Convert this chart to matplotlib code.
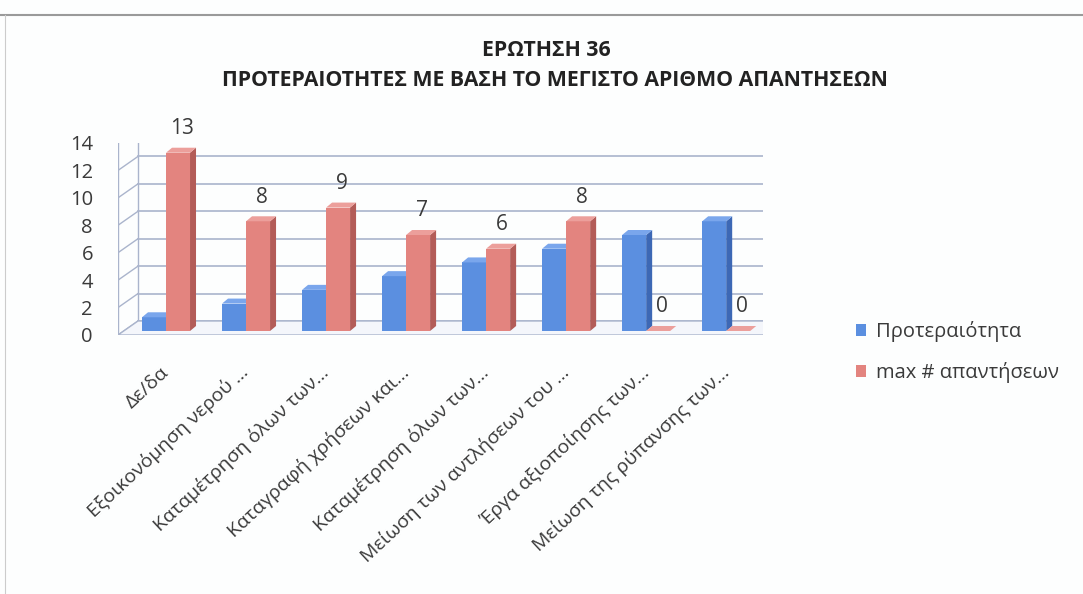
import numpy as np
import matplotlib
matplotlib.use("Agg")
import matplotlib.pyplot as plt
from matplotlib.patches import Polygon, Patch
import matplotlib.transforms as mtransforms

plt.rcParams["font.family"] = ["Open Sans", "DejaVu Sans"]

# ---------------------------------------------------------------------------
# data
# ---------------------------------------------------------------------------
title_lines = ["ΕΡΩΤΗΣΗ 36", "ΠΡΟΤΕΡΑΙΟΤΗΤΕΣ ΜΕ ΒΑΣΗ ΤΟ ΜΕΓΙΣΤΟ ΑΡΙΘΜΟ ΑΠΑΝΤΗΣΕΩΝ"]
categories = [
    "Δε/δα",
    "Εξοικονόμηση νερού ...",
    "Καταμέτρηση όλων των...",
    "Καταγραφή χρήσεων και...",
    "Καταμέτρηση όλων των...",
    "Μείωση των αντλήσεων του ...",
    "Έργα αξιοποίησης των...",
    "Μείωση της ρύπανσης των...",
]
priority = [1, 2, 3, 4, 5, 6, 7, 8]
max_answers = [13, 8, 9, 7, 6, 8, 0, 0]
series_names = ["Προτεραιότητα", "max # απαντήσεων"]
y_ticks = [0, 2, 4, 6, 8, 10, 12, 14]

# ---------------------------------------------------------------------------
# styling
# ---------------------------------------------------------------------------
W, H = 1083, 594
blue_front, blue_side, blue_top = "#5b8fe0", "#3d68b5", "#7aa6ec"
red_front, red_side, red_top = "#e3847f", "#b35c58", "#ec9f9b"
grid_col = "#aab4cc"
text_col = "#3a3a3a"

fig = plt.figure(figsize=(W / 100, H / 100), dpi=100)
fig.patch.set_facecolor("#fdfefe")

# plot area in pixels (front wall)
x_left, x_right = 118, 763
y_zero, y_top = 335, 143
ax = fig.add_axes([x_left / W, 1 - y_zero / H,
                   (x_right - x_left) / W, (y_zero - y_top) / H])
ax.set_xlim(-0.6, 7.46)
ax.set_ylim(0, 14)
ax.set_facecolor("none")
for s in ax.spines.values():
    s.set_visible(False)

# 3D offsets in pixels
back_dx, back_dy = 20, 14
bar_dx, bar_dy = 6, 5
bar_shift = 4  # bars stand a little inside the floor

back = ax.transData + mtransforms.ScaledTranslation(back_dx / 100, back_dy / 100,
                                                    fig.dpi_scale_trans)
mid = ax.transData + mtransforms.ScaledTranslation(0, bar_shift / 100,
                                                   fig.dpi_scale_trans)
x0, x1 = ax.get_xlim()

# back wall gridlines + left wall diagonals
for yv in y_ticks:
    ax.plot([x0, x1], [yv, yv], color=grid_col, lw=1.2, transform=back, zorder=1)
    p_front = ax.transData.transform((x0, yv))
    pts = np.array([p_front, p_front + [back_dx, back_dy]])
    ax.plot(pts[:, 0], pts[:, 1], color=grid_col, lw=1.0,
            transform=None, zorder=1)
ax.plot([x0, x0], [0, 14], color=grid_col, lw=1.0, zorder=1)
ax.plot([x0, x0], [0, 14], color=grid_col, lw=1.0, transform=back, zorder=1)

# floor
f0 = ax.transData.transform((x0, 0))
f1 = ax.transData.transform((x1, 0))
floor = Polygon([f0, f1, f1 + [back_dx, back_dy], f0 + [back_dx, back_dy]],
                closed=True, transform=None, facecolor="#f4f6fb",
                edgecolor=grid_col, lw=1.0, zorder=1.5)
ax.add_patch(floor)

# bars with simple 3D faces
bw = 0.3
x = np.arange(len(categories))
inv = ax.transData.inverted()
dxd = inv.transform((bar_dx, bar_dy)) - inv.transform((0, 0))


def draw_bars(xs, vals, front, side, top):
    d0, d1 = dxd
    for xi, v in zip(xs, vals):
        a, b = xi, xi + bw
        ax.add_patch(Polygon([(a, 0), (b, 0), (b, v), (a, v)], closed=True,
                             facecolor=front, edgecolor="none", zorder=3,
                             transform=mid))
        ax.add_patch(Polygon([(b, 0), (b + d0, d1), (b + d0, v + d1), (b, v)],
                             closed=True, facecolor=side, edgecolor="none",
                             zorder=3, transform=mid))
        ax.add_patch(Polygon([(a, v), (b, v), (b + d0, v + d1), (a + d0, v + d1)],
                             closed=True, facecolor=top, edgecolor="none",
                             zorder=3, transform=mid))


draw_bars(x - bw, priority, blue_front, blue_side, blue_top)
draw_bars(x, max_answers, red_front, red_side, red_top)

# data labels for the red series
for xi, v in zip(x, max_answers):
    ax.text(xi + bw / 2 + 0.05, v + 1.0, str(v), ha="center", va="bottom",
            fontsize=15, color=text_col, zorder=5, transform=mid)

# axes ticks
ax.set_yticks(y_ticks)
ax.set_yticklabels([str(t) for t in y_ticks], fontsize=14.5, color=text_col)
ax.tick_params(axis="y", length=0, pad=18)
ax.set_xticks(x)
ax.set_xticklabels(categories, rotation=43, ha="right", va="center",
                   rotation_mode="anchor", fontsize=14, color=text_col)
ax.tick_params(axis="x", length=0, pad=25)

# title
fig.text(546 / W, 1 - 50 / H, title_lines[0], ha="center", va="center",
         fontsize=15.3, fontweight="bold", color="#222222")
fig.text(555 / W, 1 - 81 / H, title_lines[1], ha="center", va="center",
         fontsize=15.3, fontweight="bold", color="#222222")

# legend
handles = [Patch(facecolor=blue_front, edgecolor="none"),
           Patch(facecolor=red_front, edgecolor="none")]
fig.legend(handles, series_names, loc="center left",
           bbox_to_anchor=(838 / W, 1 - 352 / H), frameon=False,
           fontsize=14.5, handlelength=0.5, handleheight=0.5, handletextpad=0.5,
           labelspacing=1.0, labelcolor=text_col)

# screenshot frame lines
fig.add_artist(plt.Line2D([0, 1], [1 - 15 / H, 1 - 15 / H], color="#9a9a9a",
                          lw=1.5, transform=fig.transFigure))
fig.add_artist(plt.Line2D([5 / W, 5 / W], [0, 1 - 15 / H], color="#cccccc",
                          lw=0.8, transform=fig.transFigure))

fig.savefig("out.png", dpi=100, facecolor=fig.get_facecolor())
